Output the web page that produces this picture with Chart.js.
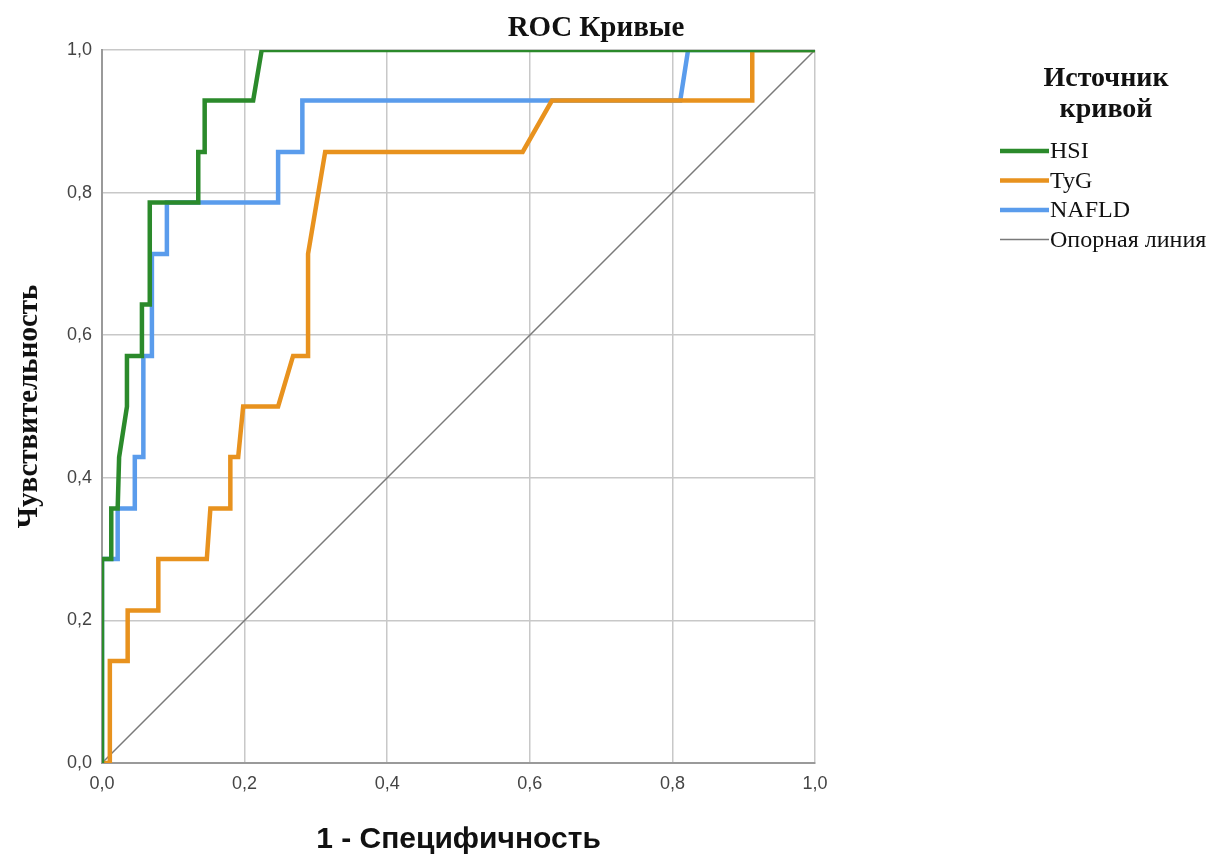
<!DOCTYPE html>
<html>
<head>
<meta charset="utf-8">
<script src="https://cdn.jsdelivr.net/npm/chart.js@4.4.0/dist/chart.umd.min.js"></script>
<style>
  html, body { margin: 0; padding: 0; background: #fff; }
  #wrap { width: 1218px; height: 855px; position: relative; }
</style>
</head>
<body>
<div id="wrap"><canvas id="myChart"></canvas></div>
<script>
// ROC points (x = 1 - specificity, y = sensitivity)
var hsiX  = [0, 0, 0.013, 0.013, 0.022, 0.024, 0.035, 0.035, 0.056, 0.056, 0.067, 0.067, 0.135, 0.135, 0.144, 0.144, 0.212, 0.224, 1];
var hsiY  = [0, 0.286, 0.286, 0.357, 0.357, 0.429, 0.5, 0.571, 0.571, 0.643, 0.643, 0.786, 0.786, 0.857, 0.857, 0.929, 0.929, 1, 1];

var tygX  = [0, 0.011, 0.011, 0.036, 0.036, 0.079, 0.079, 0.147, 0.152, 0.18, 0.18, 0.191, 0.198, 0.247, 0.268, 0.289, 0.289, 0.313, 0.59, 0.631, 0.912, 0.912, 1];
var tygY  = [0, 0, 0.143, 0.143, 0.214, 0.214, 0.286, 0.286, 0.357, 0.357, 0.429, 0.429, 0.5, 0.5, 0.571, 0.571, 0.714, 0.857, 0.857, 0.929, 0.929, 1, 1];

var nafldX = [0, 0, 0.022, 0.022, 0.046, 0.046, 0.058, 0.058, 0.07, 0.07, 0.091, 0.091, 0.247, 0.247, 0.281, 0.281, 0.811, 0.822, 1];
var nafldY = [0, 0.286, 0.286, 0.357, 0.357, 0.429, 0.429, 0.571, 0.571, 0.714, 0.714, 0.786, 0.786, 0.857, 0.857, 0.929, 0.929, 1, 1];

var refX = [0, 1];
var refY = [0, 1];

var tickVals = [0, 0.2, 0.4, 0.6, 0.8, 1.0];

function pts(xs, ys){
    var out = [];
    for(let i=0; i<xs.length; i++){
        out.push({x: xs[i], y: ys[i]});
    }
    return out;
}

function fmt(v){
    return v.toFixed(1).replace('.', ',');
}

// title + legend drawn on the canvas
var extras = {
    id: 'extras',
    afterDraw: function(chart){
        var c = chart.ctx;
        c.save();
        c.fillStyle = '#111';
        c.textAlign = 'center';
        c.textBaseline = 'middle';
        c.font = 'bold 29px "Liberation Serif", serif';
        c.fillText('ROC Кривые', 596, 29);

        c.font = 'bold 28px "Liberation Serif", serif';
        c.fillText('Источник', 1106, 79);
        c.fillText('кривой', 1106, 110);

        var ds = chart.data.datasets;
        c.textAlign = 'left';
        c.font = '24px "Liberation Serif", serif';
        for(let i=0; i<ds.length; i++){
            var y = 151 + i*29.5;
            c.strokeStyle = ds[i].borderColor;
            c.lineWidth = ds[i].borderWidth;
            c.beginPath();
            c.moveTo(1000, y);
            c.lineTo(1049, y);
            c.stroke();
            c.fillStyle = '#111';
            c.fillText(ds[i].label, 1050, y + 1);
        }
        c.restore();
    }
};

var ctx = document.getElementById('myChart').getContext('2d');
var myChart = new Chart(ctx, {
    type: 'scatter',
    data: {
        datasets: [{
            label: 'HSI',
            data: pts(hsiX, hsiY),
            borderColor: '#2b8a2b',
            borderWidth: 4.5,
            showLine: true,
            pointRadius: 0
        }, {
            label: 'TyG',
            data: pts(tygX, tygY),
            borderColor: '#e8921e',
            borderWidth: 4.5,
            showLine: true,
            pointRadius: 0
        }, {
            label: 'NAFLD',
            data: pts(nafldX, nafldY),
            borderColor: '#5a9cec',
            borderWidth: 4.5,
            showLine: true,
            pointRadius: 0
        }, {
            label: 'Опорная линия',
            data: pts(refX, refY),
            borderColor: '#7a7a7a',
            borderWidth: 1.5,
            showLine: true,
            pointRadius: 0
        }]
    },
    options: {
        responsive: true,
        maintainAspectRatio: false,
        animation: false,
        layout: { padding: { top: 50, right: 403, left: 0, bottom: 0 } },
        plugins: {
            legend: { display: false },
            tooltip: { enabled: false }
        },
        scales: {
            x: {
                type: 'linear',
                min: 0, max: 1,
                afterFit: function(s){ s.height = 92; },
                afterBuildTicks: function(s){ s.ticks = tickVals.map(v => ({value: v})); },
                grid: { color: '#c8c8c8', lineWidth: 1.5, drawTicks: false },
                border: { color: '#9a9a9a', width: 2 },
                ticks: {
                    padding: 10,
                    color: '#444',
                    font: { family: '"Liberation Sans", Arial, sans-serif', size: 18 },
                    callback: function(v){ return fmt(v); }
                },
                title: {
                    display: true,
                    text: '1 - Специфичность',
                    color: '#111',
                    font: { family: '"Liberation Sans", Arial, sans-serif', size: 30, weight: 'bold' },
                    padding: { top: 4, bottom: -3 }
                }
            },
            y: {
                type: 'linear',
                min: 0, max: 1,
                afterFit: function(s){ s.width = 102; },
                afterBuildTicks: function(s){ s.ticks = tickVals.map(v => ({value: v})); },
                grid: { color: '#c8c8c8', lineWidth: 1.5, drawTicks: false },
                border: { color: '#9a9a9a', width: 2 },
                ticks: {
                    padding: 10,
                    color: '#444',
                    font: { family: '"Liberation Sans", Arial, sans-serif', size: 18 },
                    callback: function(v){ return fmt(v); }
                },
                title: {
                    display: true,
                    text: 'Чувствительность',
                    color: '#111',
                    font: { family: '"Liberation Serif", serif', size: 29, weight: 'bold' },
                    padding: { top: 12, bottom: 0 }
                }
            }
        }
    },
    plugins: [extras]
});
</script>
</body>
</html>
